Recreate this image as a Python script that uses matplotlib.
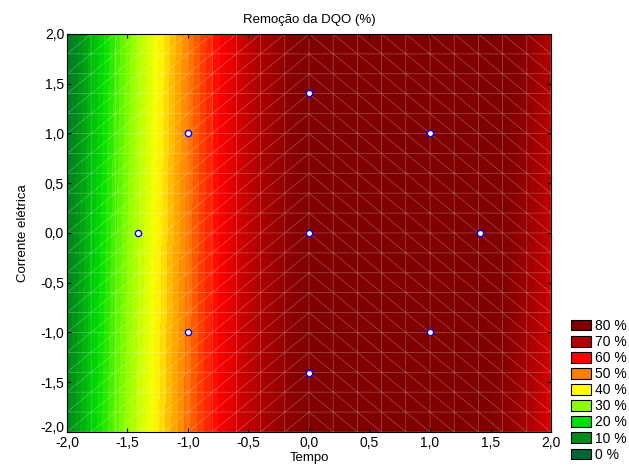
import numpy as np
import matplotlib.pyplot as plt
import matplotlib.tri as mtri
import matplotlib.transforms as mtransforms
from matplotlib.colors import LinearSegmentedColormap
from matplotlib.patches import Patch
from matplotlib.ticker import FuncFormatter

plt.rcParams['font.family'] = ['Liberation Sans', 'DejaVu Sans']

# response surface coefficients (coded variables): x = Tempo, y = Corrente eletrica
coef_names = ["b0", "b1", "b2", "b11", "b22", "b12", "b111"]
coef_vals = [81.0, 21.0, 0.3, -11.0, 0.0, 0.6, -1.5]

# design points (central composite design)
tempo_pts = [-1, 1, -1, 1, -1.41, 1.41, 0, 0, 0]
corrente_pts = [1, 1, -1, -1, 0, 0, 1.41, -1.41, 0]

# legend levels and colours
level_vals = [0, 10, 20, 30, 40, 50, 60, 70, 80]
level_cols = ["#006633", "#008c1a", "#00e000", "#8cff00", "#ffff00",
              "#ff7f00", "#ff0000", "#b30000", "#800000"]

c = dict(zip(coef_names, coef_vals))


def surface(x, y):
    return (c["b0"] + c["b1"] * x + c["b2"] * y + c["b11"] * x ** 2
            + c["b22"] * y ** 2 + c["b12"] * x * y + c["b111"] * x ** 3)


# triangulated grid (diagonal direction flips at x = 0, like the original mesh)
gx = np.linspace(-2, 2, 21)
gy = np.linspace(-2, 2, 21)
X, Y = np.meshgrid(gx, gy)
nx = len(gx)
tris = []
for j in range(len(gy) - 1):
    for i in range(nx - 1):
        a, b = j * nx + i, j * nx + i + 1
        d, e = (j + 1) * nx + i, (j + 1) * nx + i + 1
        if gx[i] < 0:
            tris += [[a, b, e], [a, e, d]]
        else:
            tris += [[a, b, d], [b, e, d]]
tri = mtri.Triangulation(X.ravel(), Y.ravel(), np.array(tris))
refiner = mtri.UniformTriRefiner(tri)
tri_fine, z_fine = refiner.refine_field(surface(X, Y).ravel(), subdiv=3)

cmap = LinearSegmentedColormap.from_list(
    "dqo", [(v / 80.0, col) for v, col in zip(level_vals, level_cols)])
cmap.set_over("#800000")
cmap.set_under("#006633")

fig = plt.figure(figsize=(6.29, 4.70), dpi=100)
ax = fig.add_axes([0.1065, 0.0809, 0.7695, 0.8468])

ax.tricontourf(tri_fine, z_fine, levels=np.arange(0, 82, 2), cmap=cmap,
               vmin=0, vmax=80, extend="both")
ax.triplot(tri, color="white", lw=0.5, alpha=0.3)

ax.plot(tempo_pts, corrente_pts, "o", ms=4.5, mfc="white", mec="#0000ff",
        mew=1.0, zorder=5)

ax.set_xlim(-2, 2)
ax.set_ylim(-2, 2)
ticks = np.arange(-2, 2.01, 0.5)
ax.set_xticks(ticks)
ax.set_yticks(ticks)
fmt = FuncFormatter(lambda v, p: f"{v:.1f}".replace(".", ",").replace("-0,0", "0,0"))
ax.xaxis.set_major_formatter(fmt)
ax.yaxis.set_major_formatter(fmt)
ax.tick_params(direction="in", top=True, right=True, length=3, labelsize=10, pad=2)
ax.tick_params(axis="x", pad=3)

# lift the lowest y label a little, as in the original
fig.canvas.draw()
lab = ax.get_yticklabels()[0]
lab.set_transform(lab.get_transform() + mtransforms.ScaledTranslation(0, 4 / 72, fig.dpi_scale_trans))

ax.set_title("Remoção da DQO (%)", fontsize=9.5, pad=8)
ax.set_xlabel("Tempo", fontsize=9.5, labelpad=1)
ax.set_ylabel("Corrente elétrica", fontsize=9.5, labelpad=8)

handles = [Patch(facecolor=col, edgecolor="black", lw=0.8)
           for col in level_cols[::-1]]
labels = [f"{v} %" for v in level_vals[::-1]]
fig.legend(handles, labels, loc="lower left", bbox_to_anchor=(0.895, 0.0),
           frameon=False, fontsize=10, handlelength=1.4, handleheight=0.8,
           handletextpad=0.3, labelspacing=0.15, borderaxespad=0.2)

fig.savefig("out.png", dpi=100)
